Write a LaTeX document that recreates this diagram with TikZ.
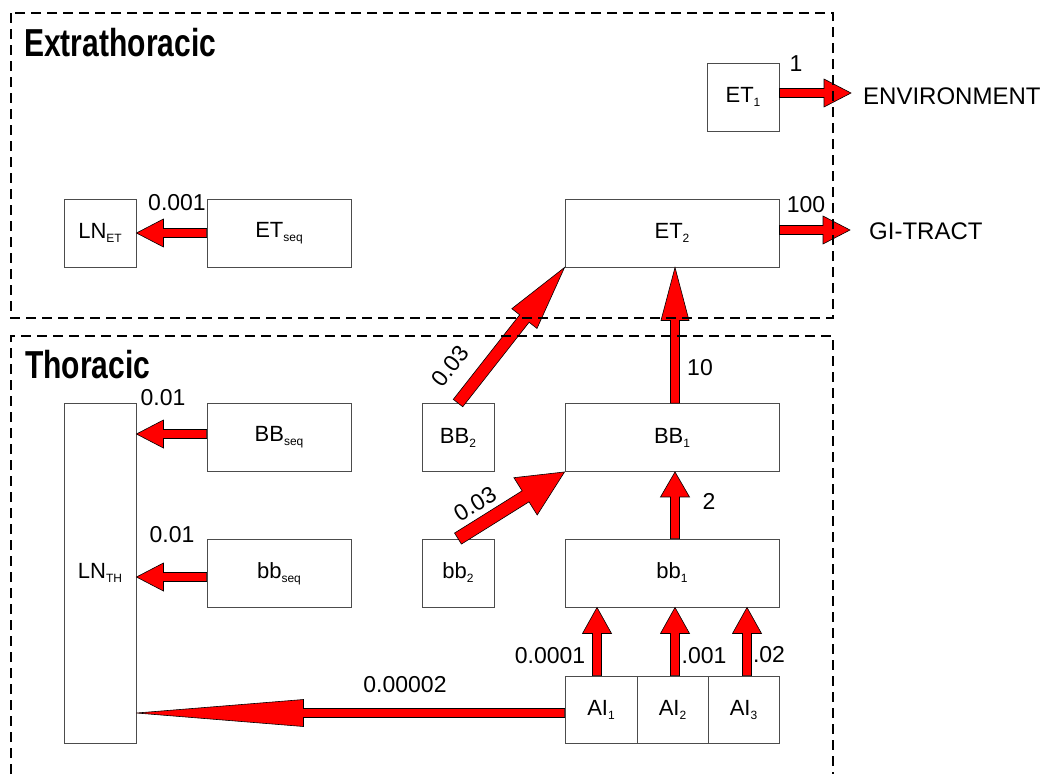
\documentclass[tikz,border=0pt]{standalone}
\usepackage{fontspec}
\usepackage{graphicx}
\setmainfont{Liberation Sans}
\usetikzlibrary{calc}

% small lowered index inside compartment names
\newcommand\lowsub[1]{\raisebox{-4pt}{\fontsize{12}{12}\selectfont #1}}

% block arrow: tail, tip, shaft half-width, head length, head half-width
\newcommand\blockarrow[5]{%
  \coordinate (ba-base) at ($(#2)!#4!(#1)$);
  \filldraw[flowarrow] ($(#1)!#3!90:(#2)$) -- ($(ba-base)!#3!90:(#2)$)
    -- ($(ba-base)!#5!90:(#2)$) -- (#2) -- ($(ba-base)!#5!-90:(#2)$)
    -- ($(ba-base)!#3!-90:(#2)$) -- ($(#1)!#3!-90:(#2)$) -- cycle;}

\tikzset{
  box/.style={draw=black!70, line width=0.9pt, fill=white, inner sep=0pt,
    minimum width=72, minimum height=68, font=\fontsize{22}{22}\selectfont},
  flowarrow/.style={fill=red, draw=black, line width=0.6pt, line join=miter},
  num/.style={inner sep=0pt, font=\fontsize{23}{23}\selectfont},
  region/.style={draw=black, line width=1.6pt, dash pattern=on 10pt off 6pt},
  title/.style={anchor=base west, inner sep=0pt}
}

\begin{document}
\begin{tikzpicture}[x=1pt, y=-1pt]
\useasboundingbox (0,0) rectangle (1048,774);
\fill[white] (0,0) rectangle (1048,774);

% compartments
\node[box] (ET1) at (743,97) {ET\lowsub{1}};
\node[box] (LNET) at (100,233) {LN\lowsub{ET}};
\node[box, minimum width=144] (ETseq) at (279,233) {ET\lowsub{seq}};
\node[box, minimum width=214] (ET2) at (672,233) {ET\lowsub{2}};
\node[box] (BB2) at (458,437.5) {BB\lowsub{2}};
\node[box, minimum width=214] (BB1) at (672,437.5) {BB\lowsub{1}};
\node[box, minimum height=340] (LNTH) at (100,573) {LN\lowsub{TH}};
\node[box, minimum width=144] (BBseq) at (279,437) {BB\lowsub{seq}};
\node[box, minimum width=144] (bbseq) at (279,573.5) {bb\lowsub{seq}};
\node[box] (bb2) at (458,573) {bb\lowsub{2}};
\node[box, minimum width=214] (bb1) at (672,573) {bb\lowsub{1}};
\node[box, minimum height=67] (AI1) at (601,709.5) {AI\lowsub{1}};
\node[box, minimum width=71, minimum height=67] (AI2) at (672.5,709.5) {AI\lowsub{2}};
\node[box, minimum width=71, minimum height=67] (AI3) at (743.5,709.5) {AI\lowsub{3}};

% destinations outside the lungs
\node[num, anchor=west, font=\fontsize{24}{24}\selectfont] (env) at (863,96) {ENVIRONMENT};
\node[num, anchor=west, font=\fontsize{24}{24}\selectfont] (gi) at (869,231) {GI-TRACT};
\coordinate (envtip) at (851,93);
\coordinate (gitip) at (850,230);

% arrow end points on box borders
\coordinate (et1-out) at ($(ET1.east)+(0,-4)$);
\coordinate (et2-out) at ($(ET2.east)+(0,-3)$);
\coordinate (bbseq-out) at ($(BBseq.west)+(0,-3)$);
\coordinate (bbbseq-out) at ($(bbseq.west)+(0,3.5)$);
\coordinate (ai1-out) at ($(AI1.west)+(0,3.5)$);
\coordinate (lnth-a) at (bbseq-out -| LNTH.east);
\coordinate (lnth-b) at (bbbseq-out -| LNTH.east);
\coordinate (lnth-c) at (ai1-out -| LNTH.east);
\coordinate (bb1-out) at ($(BB1.north)+(3,0)$);
\coordinate (et2-in) at (bb1-out |- ET2.south);
\coordinate (bbb1-out) at ($(bb1.north)+(3,0)$);
\coordinate (bb1-in) at (bbb1-out |- BB1.south);
\coordinate (ai1-up) at ($(AI1.north)+(-4,0)$);
\coordinate (ai2-up) at ($(AI2.north)+(2.5,0)$);
\coordinate (ai3-up) at ($(AI3.north)+(3.5,0)$);
\coordinate (ai1-in) at (ai1-up |- bb1.south);
\coordinate (ai2-in) at (ai2-up |- bb1.south);
\coordinate (ai3-in) at (ai3-up |- bb1.south);

% transfer arrows
\blockarrow{et1-out}{envtip}{4.5pt}{27pt}{14pt}
\blockarrow{et2-out}{gitip}{4.5pt}{27pt}{14pt}
\blockarrow{ETseq.west}{LNET.east}{4.5pt}{27pt}{14pt}
\blockarrow{bbseq-out}{lnth-a}{4.5pt}{27pt}{14pt}
\blockarrow{bbbseq-out}{lnth-b}{4.5pt}{27pt}{14pt}
\blockarrow{ai1-out}{lnth-c}{4.5pt}{167pt}{13.5pt}
\blockarrow{bb1-out}{et2-in}{4.5pt}{53pt}{14pt}
\blockarrow{bbb1-out}{bb1-in}{4.5pt}{25pt}{14.5pt}
\blockarrow{ai1-up}{ai1-in}{4.5pt}{26pt}{14.5pt}
\blockarrow{ai2-up}{ai2-in}{4.5pt}{26pt}{14.5pt}
\blockarrow{ai3-up}{ai3-in}{4.5pt}{26pt}{14.5pt}
\blockarrow{BB2.north}{ET2.south west}{6pt}{65pt}{16pt}
\blockarrow{bb2.north}{BB1.south west}{6.5pt}{46pt}{22pt}

% rates
\node[num] (r-env) at (796,64) {1};
\node[num] (r-gi) at (806,205) {100};
\node[num] (r-lnet) at (177,203) {0.001};
\node[num] (r-bb1) at (700,367.5) {10};
\node[num, rotate=52] (r-bb2) at (450,366) {0.03};
\node[num, rotate=31] (r-bbb2) at (475,504) {0.03};
\node[num] (r-bbb1) at (709,501) {2};
\node[num] (r-ai1) at (550,655.5) {0.0001};
\node[num] (r-ai2) at (704,656) {.001};
\node[num] (r-ai3) at (769,655) {.02};
\node[num] (r-lnth) at (405,685) {0.00002};
\node[num] (r-bbseq) at (163,398) {0.01};
\node[num] (r-bbbseq) at (172,535) {0.01};

% regions
\draw[region] (11,13) rectangle (833,318);
\draw[region] (11,774) -- (11,336) -- (833,336) -- (833,774);
\node[title] (t-et) at (24,56) {\scalebox{0.77}[1]{\fontsize{39}{39}\selectfont\bfseries Extrathoracic}};
\node[title] (t-th) at (25,378) {\scalebox{0.77}[1]{\fontsize{39}{39}\selectfont\bfseries Thoracic}};
\end{tikzpicture}
\end{document}
